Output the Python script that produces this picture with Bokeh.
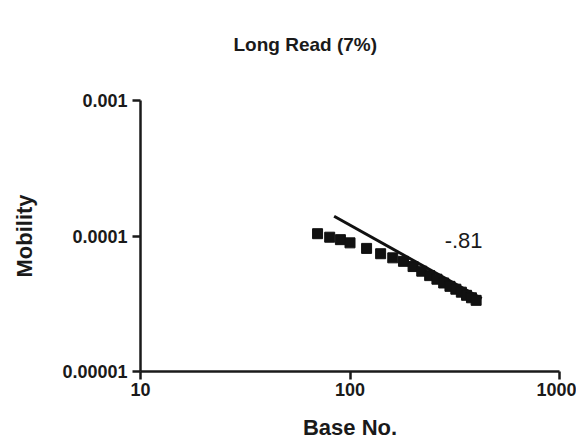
from bokeh.plotting import figure
from bokeh.models import FixedTicker, Label, Title
from bokeh.embed import file_html
from bokeh.resources import INLINE

# Data
base_no = [70, 80, 90, 100, 120, 140, 160, 180, 200, 220, 240, 260, 280, 300, 320, 340, 360, 380, 400]
mobility = [1.04e-4, 0.98e-4, 0.94e-4, 0.89e-4, 0.81e-4, 0.74e-4, 0.69e-4, 6.5e-5, 5.95e-5,
            5.5e-5, 5.1e-5, 4.8e-5, 4.5e-5, 4.25e-5, 4.05e-5, 3.85e-5, 3.65e-5, 3.5e-5, 3.35e-5]
fit_x = [84, 425]
fit_y = [1.40e-4, 3.45e-5]
slope_label = "-.81"
title_text = "Long Read (7%)"

x_ticks = [10, 100, 1000]
x_tick_labels = ["10", "100", "1000"]
y_ticks = [1e-5, 1e-4, 1e-3]
y_tick_labels = ["0.00001", "0.0001", "0.001"]

FONT = "Liberation Sans"

p = figure(width=576, height=442, x_axis_type="log", y_axis_type="log",
           x_range=(10, 1000), y_range=(1e-5, 1e-3),
           output_backend="svg", toolbar_location=None,
           min_border_left=140, min_border_right=17, min_border_top=100, min_border_bottom=65)

p.title = Title(text=title_text, align="left", offset=93,
                text_font=FONT, text_font_size="19px", text_font_style="bold", text_color="#1a1a1a")
# empty spacer between the frame and the title
p.add_layout(Title(text=" ", text_font=FONT, text_font_size="16px", standoff=22), "above")

p.outline_line_color = None
p.xgrid.grid_line_color = None
p.ygrid.grid_line_color = None

for ax in (p.xaxis[0], p.yaxis[0]):
    ax.axis_line_width = 2.5
    ax.axis_line_color = "#1a1a1a"
    ax.major_tick_line_width = 2.5
    ax.major_tick_line_color = "#1a1a1a"
    ax.major_tick_out = 8
    ax.major_tick_in = 0
    ax.minor_tick_line_color = None
    ax.major_label_text_font = FONT
    ax.major_label_text_font_size = "18px"
    ax.major_label_text_font_style = "bold"
    ax.major_label_text_color = "#1a1a1a"
    ax.axis_label_text_font = FONT
    ax.axis_label_text_font_size = "22px"
    ax.axis_label_text_font_style = "bold"
    ax.axis_label_text_color = "#1a1a1a"

p.xaxis.ticker = FixedTicker(ticks=x_ticks)
p.yaxis.ticker = FixedTicker(ticks=y_ticks)
p.xaxis.major_label_overrides = dict(zip(x_ticks, x_tick_labels))
p.yaxis.major_label_overrides = dict(zip(y_ticks, y_tick_labels))
p.xaxis.axis_label = "Base No."
p.yaxis.axis_label = "Mobility"
p.xaxis.major_label_standoff = 3
p.yaxis.major_label_standoff = 5
p.xaxis.axis_label_standoff = 16
p.yaxis.axis_label_standoff = 22

p.line(fit_x, fit_y, line_color="#111111", line_width=3)
p.scatter(base_no, mobility, marker="square", size=10, fill_color="#111111", line_color="#111111")

p.add_layout(Label(x=283, y=0.92e-4, text=slope_label, text_font=FONT, text_font_size="22px",
                   text_baseline="middle", text_color="#1a1a1a"))

open("out.html", "w").write(file_html(p, INLINE))
